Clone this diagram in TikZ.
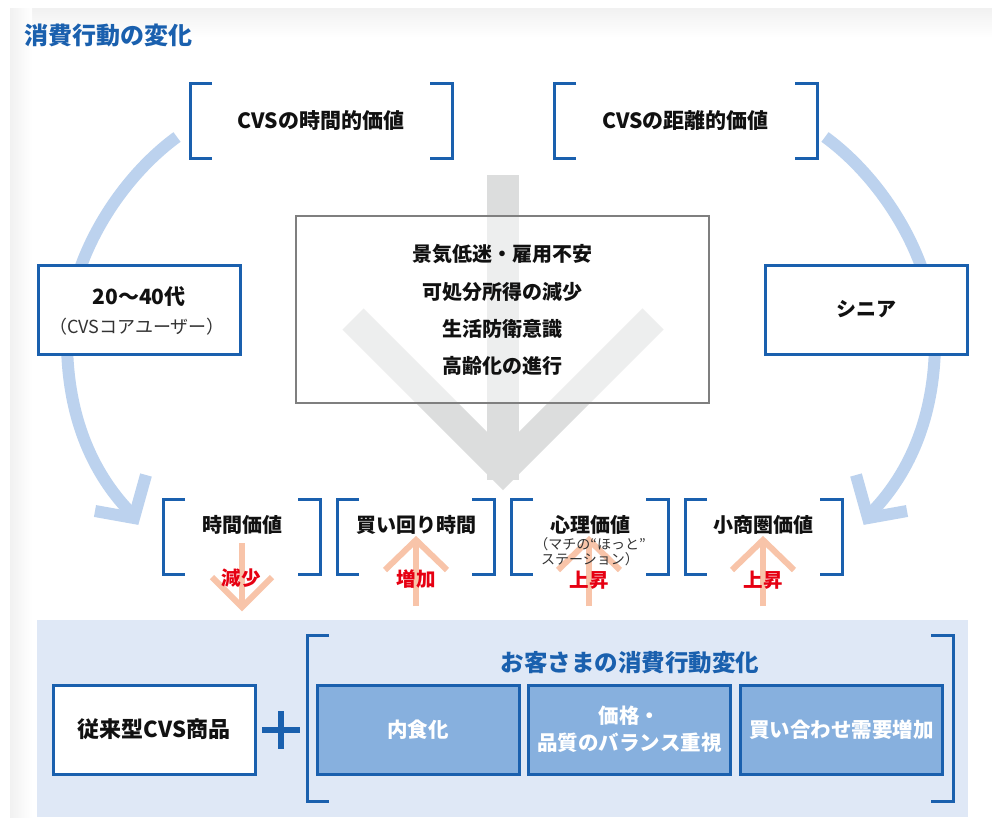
\documentclass[tikz,border=0pt]{standalone}
\usepackage{fontspec}
\setmainfont{Noto Sans CJK JP}
\definecolor{cblue}{HTML}{1A60AE}
\definecolor{arcblue}{HTML}{BCD2EE}
\definecolor{graya}{HTML}{DCDDDD}
\definecolor{boxgray}{HTML}{7F7F7F}
\definecolor{salm}{HTML}{F8C4A9}
\definecolor{cred}{HTML}{E60012}
\definecolor{panel}{HTML}{DFE8F6}
\definecolor{fillb}{HTML}{87B0DE}
\definecolor{edge}{HTML}{F1F1F1}
\definecolor{ink}{HTML}{111111}
\begin{document}
\begin{tikzpicture}[x=1pt,y=-1pt,
  every node/.style={inner sep=0pt, outer sep=0pt, text=ink},
  brkline/.style={line width=3pt, draw=cblue},
  frame/.style={minimum width=157pt, minimum height=75pt},
  whitebox/.style={draw=cblue, line width=3pt, fill=white, minimum width=202pt, minimum height=89pt},
  fillbox/.style={draw=cblue, line width=3pt, fill=fillb, minimum width=202pt, minimum height=89pt},
  bigtxt/.style={font=\fontsize{21}{25}\selectfont\bfseries},
  midtxt/.style={font=\fontsize{20}{24}\selectfont\bfseries},
  redtxt/.style={font=\fontsize{19.5}{22}\selectfont\bfseries, text=cred},
  wtxt/.style={font=\fontsize{20.5}{27}\selectfont\bfseries, text=white, align=center},
  arcline/.style={line width=12pt, draw=arcblue},
  salmline/.style={line width=6pt, draw=salm},
]
\useasboundingbox (0,0) rectangle (992,817);
% background
\fill[white] (0,0) rectangle (992,817);
\shade[top color=edge, bottom color=white] (10,8) rectangle (992,38);
\shade[left color=edge, right color=white] (10,8) rectangle (32,817);
% bottom panel
\fill[panel] (37,620) rectangle (968,817);
% title
\node[anchor=west, font=\fontsize{24}{28}\selectfont\bfseries, text=cblue] (title) at (24,35) {消費行動の変化};
% blue arcs
\draw[arcline] (177,137) .. controls (118,180) and (67,262) .. (67,340) .. controls (67,420) and (95,477) .. (133,515);
\draw[arcline, line join=miter] (95,511) -- (134,518) -- (146,475);
\draw[arcline] (825,137) .. controls (884,180) and (935,262) .. (935,340) .. controls (935,420) and (907,477) .. (869,515);
\draw[arcline, line join=miter] (907,511) -- (868,518) -- (856,475);
% gray arrow
\fill[graya] (487,175) rectangle (519,480);
\draw[graya, line width=30pt, line join=miter] (353,319) -- (503,469) -- (653,319);
% center box
\node[draw=boxgray, line width=2pt, fill=white, fill opacity=0.5, minimum width=413pt, minimum height=187pt] (C) at (502.5,309.5) {};
\node[midtxt] (C1) at (502,254) {景気低迷・雇用不安};
\node[midtxt] (C2) at (502,292) {可処分所得の減少};
\node[midtxt] (C3) at (502,329) {生活防衛意識};
\node[midtxt] (C4) at (502,366) {高齢化の進行};
% top brackets
\node[minimum width=262pt, minimum height=75pt, bigtxt] (t1) at (321,120.5) {CVSの時間的価値};
\node[minimum width=263pt, minimum height=75pt, bigtxt] (t2) at (685.5,120.5) {CVSの距離的価値};
% side boxes
\node[whitebox] (L) at (139,309.5) {};
\node[font=\fontsize{21}{24}\selectfont\bfseries] (L1) at (139,297) {20〜40代};
\node[font=\fontsize{18}{20}\selectfont, text=black!80] (L2) at (137,327) {（CVSコアユーザー）};
\node[whitebox, midtxt] (R) at (866,309.5) {シニア};
% bottom bracket frames
\node[frame] (b1) at (241.5,536.5) {};
\node[frame] (b2) at (415.5,536.5) {};
\node[frame] (b3) at (589.5,536.5) {};
\node[frame] (b4) at (763.5,536.5) {};
\node[minimum width=646pt, minimum height=166pt] (B) at (630,718) {};
\foreach \n in {t1,t2,b1,b2,b3,b4,B}{
  \draw[brkline] ([xshift=22pt]\n.north west) -- (\n.north west) -- (\n.south west) -- ([xshift=22pt]\n.south west);
  \draw[brkline] ([xshift=-22pt]\n.north east) -- (\n.north east) -- (\n.south east) -- ([xshift=-22pt]\n.south east);
}
% salmon arrows
\draw[salmline] (242,543) -- (242,606);
\draw[salmline, line join=miter] (212,577) -- (242,607) -- (272,577);
\foreach \x in {416,589,763}{
  \draw[salmline] (\x,606) -- (\x,542);
  \draw[salmline, line join=miter] (\x-31,570) -- (\x,540) -- (\x+31,570);
}
% bottom bracket labels
\node[midtxt] (bl1) at (242,525) {時間価値};
\node[midtxt] (bl2) at (416,525) {買い回り時間};
\node[midtxt] (bl3) at (590,525) {心理価値};
\node[font=\fontsize{14}{16}\selectfont, text=black!80, align=center] (bl3s) at (590,552) {（マチの“ほっと”\\[-1pt]ステーション）};
\node[midtxt] (bl4) at (763,525) {小商圏価値};
\node[redtxt] (r1) at (241,578) {減少};
\node[redtxt] (r2) at (416,579) {増加};
\node[redtxt] (r3) at (589,580) {上昇};
\node[redtxt] (r4) at (763,580) {上昇};
% bottom section
\node[whitebox, font=\fontsize{22}{25}\selectfont\bfseries] (P) at (154,729.5) {従来型CVS商品};
\draw[cblue, line width=6pt] (262,730) -- (300,730);
\draw[cblue, line width=6pt] (281,711) -- (281,749);
\node[font=\fontsize{23.5}{26}\selectfont\bfseries, text=cblue] (BT) at (630,663) {お客さまの消費行動変化};
\node[fillbox, wtxt] (N1) at (418,729.5) {内食化};
\node[fillbox, wtxt] (N2) at (629.5,729.5) {価格・\\品質のバランス重視};
\node[fillbox, wtxt] (N3) at (841.5,729.5) {買い合わせ需要増加};
\end{tikzpicture}
\end{document}
